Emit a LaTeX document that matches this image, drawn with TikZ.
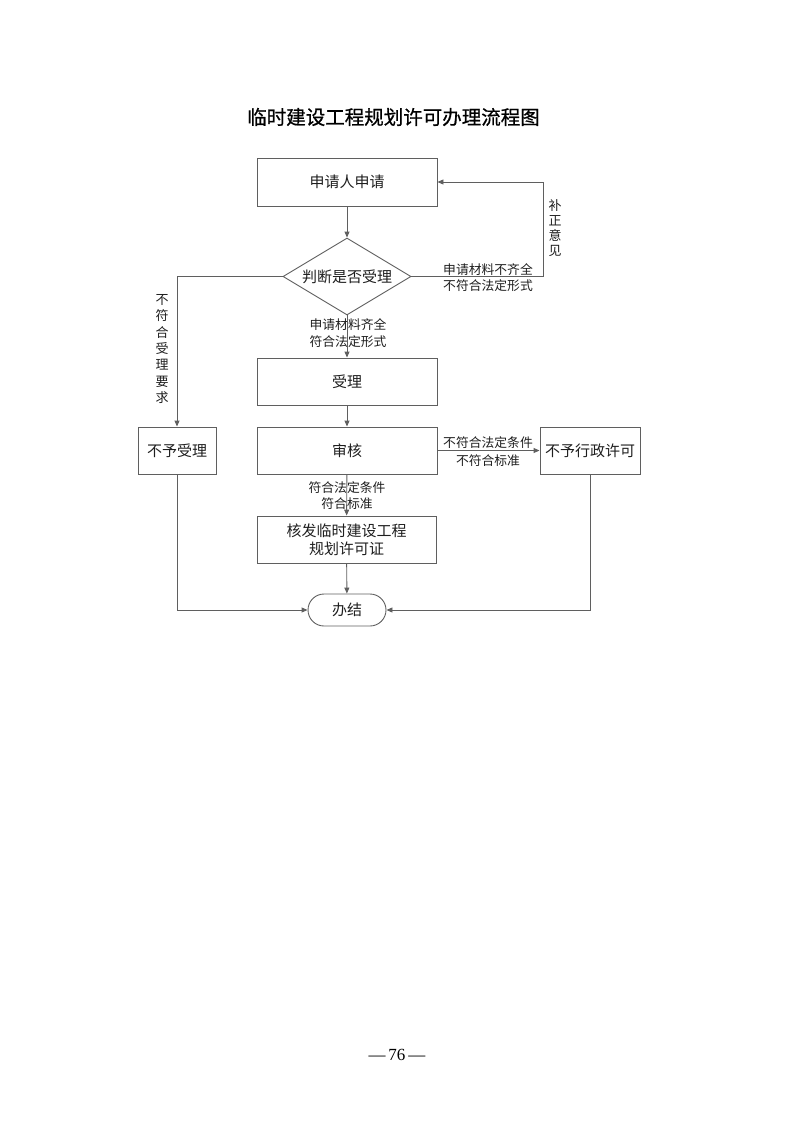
\documentclass[tikz,border=0pt]{standalone}
\usepackage{fontspec}
\newfontfamily\cjk{Noto Sans CJK SC}
\newfontfamily\cjkt{Noto Sans CJK SC}[FakeBold=0.8]
\newfontfamily\pnum{Liberation Serif}
\usetikzlibrary{shapes.geometric,shapes.misc,arrows.meta}
\definecolor{lc}{RGB}{95,95,95}
\definecolor{tc}{RGB}{30,30,30}
\begin{document}
\begin{tikzpicture}[x=1pt,y=-1pt,
  ln/.style={draw=lc, line width=0.9pt},
  arr/.style={ln, -{Triangle[length=6pt,width=5pt]}},
  box/.style={draw=lc, line width=0.9pt, rectangle, inner sep=0pt, minimum height=47pt, align=center, text=tc, font=\cjk\fontsize{15}{18}\selectfont},
  lab/.style={inner sep=0pt, text=tc, align=center, font=\cjk\fontsize{12.8}{15}\selectfont}
]
\useasboundingbox (0,0) rectangle (793,1122);
% title
\node[inner sep=0pt, text=black, font=\cjkt\fontsize{19.5}{22}\selectfont] (title) at (393.5,117) {临时建设工程规划许可办理流程图};
% nodes
\node[box, minimum width=180pt, minimum height=48pt] (b1) at (347,182) {申请人申请};
\node[draw=lc, line width=0.9pt, diamond, inner sep=0pt, aspect=1.66, minimum width=128pt, minimum height=77pt, text=tc, font=\cjk\fontsize{15}{18}\selectfont] (d) at (347,276.5) {判断是否受理};
\node[box, minimum width=180pt] (sl) at (347,381.5) {受理};
\node[box, minimum width=180pt] (sh) at (347,450.5) {审核};
\node[box, minimum width=78pt] (nr) at (177,450.5) {不予受理};
\node[box, minimum width=100pt] (nx) at (590,450.5) {不予行政许可};
\node[box, minimum width=179pt, font=\cjk\fontsize{15}{18}\selectfont] (hf) at (346.5,539.5) {核发临时建设工程\\[-0.5pt]规划许可证};
\node[draw=lc, line width=0.9pt, rounded rectangle, inner sep=0pt, minimum width=78pt, minimum height=32pt, text=tc, font=\cjk\fontsize{15}{18}\selectfont] (bj) at (347,610) {办结};
% connectors
\coordinate (fbc) at (543,182);
\draw[arr] (b1) -- (d);
\draw[arr] (d.east) -| (fbc) -- (b1.east);
\draw[arr] (d.west) -| (nr.north);
\draw[arr] (d.south) -- (sl.north);
\draw[arr] (sl) -- (sh);
\draw[arr] (sh) -- (nx);
\draw[arr] (sh) -- (hf);
\draw[arr] (hf) -- (bj);
\draw[arr] (nr.south) |- (bj.west);
\draw[arr] (nx.south) |- (bj.east);
% labels
\node[lab, font=\cjk\fontsize{13}{15}\selectfont] (l1) at (555,228) {补\\正\\意\\见};
\node[lab] (l2a) at (488,270) {申请材料不齐全};
\node[lab] (l2b) at (488,286) {不符合法定形式};
\node[lab, font=\cjk\fontsize{13}{16.3}\selectfont] (l3) at (162,349) {不\\符\\合\\受\\理\\要\\求};
\node[lab] (l4a) at (348,325) {申请材料齐全};
\node[lab] (l4b) at (348,342) {符合法定形式};
\node[lab] (l5a) at (488,443) {不符合法定条件};
\node[lab] (l5b) at (488,461) {不符合标准};
\node[lab] (l6a) at (347,488) {符合法定条件};
\node[lab] (l6b) at (347,504) {符合标准};
% page number
\node[inner sep=0pt, text=black, font=\pnum\fontsize{17}{20}\selectfont] (pg) at (397,1055) {—\,76\,—};
\end{tikzpicture}
\end{document}
